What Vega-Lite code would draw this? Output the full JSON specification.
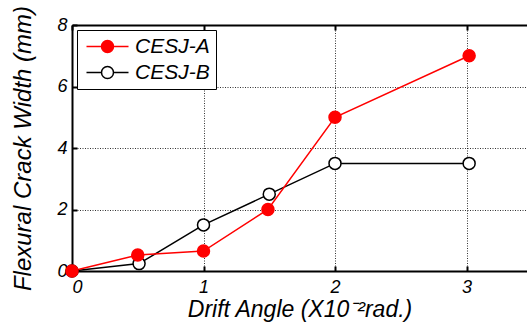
{
  "$schema": "https://vega.github.io/schema/vega-lite/v6.json",
  "autosize": "none",
  "width": 455,
  "height": 246,
  "padding": {"left": 72, "top": 25, "right": 0, "bottom": 52},
  "background": "white",
  "data": {
    "values": [
      {"series": "CESJ-B", "drift": 0, "width": 0},
      {"series": "CESJ-B", "drift": 0.51, "width": 0.24},
      {"series": "CESJ-B", "drift": 1.0, "width": 1.5},
      {"series": "CESJ-B", "drift": 1.5, "width": 2.5},
      {"series": "CESJ-B", "drift": 2.0, "width": 3.5},
      {"series": "CESJ-B", "drift": 3.02, "width": 3.5},
      {"series": "CESJ-A", "drift": 0, "width": 0},
      {"series": "CESJ-A", "drift": 0.5, "width": 0.52},
      {"series": "CESJ-A", "drift": 1.0, "width": 0.65},
      {"series": "CESJ-A", "drift": 1.49, "width": 2.0},
      {"series": "CESJ-A", "drift": 2.0, "width": 5.0},
      {"series": "CESJ-A", "drift": 3.02, "width": 7.0}
    ]
  },
  "layer": [
    {
      "mark": {"type": "line", "strokeWidth": 1.5},
      "encoding": {
        "x": {"field": "drift", "type": "quantitative", "scale": {"domain": [0, 3.46], "nice": false},
              "axis": {"orient": "bottom", "values": [0, 1, 2, 3], "title": "Drift Angle (X10⁻²rad.)", "titlePadding": 2, "labelPadding": 12, "titleFontSize": 23}},
        "y": {"field": "width", "type": "quantitative", "scale": {"domain": [0, 8], "nice": false},
              "axis": {"values": [0, 2, 4, 6, 8], "title": "Flexural Crack Width (mm)", "titlePadding": 21, "labelPadding": 10}},
        "stroke": {"field": "series", "type": "nominal",
                   "scale": {"domain": ["CESJ-A", "CESJ-B"], "range": ["#ff0000", "#000000"]}},
        "order": {"field": "series", "sort": "descending"}
      }
    },
    {
      "mark": {"type": "point", "filled": false, "size": 144, "strokeWidth": 1.5, "opacity": 1},
      "encoding": {
        "x": {"field": "drift", "type": "quantitative",
              "axis": {"orient": "top", "values": [0, 1, 2, 3], "labels": false, "grid": false, "title": null}},
        "y": {"field": "width", "type": "quantitative"},
        "stroke": {"field": "series", "type": "nominal",
                   "scale": {"domain": ["CESJ-A", "CESJ-B"], "range": ["#ff0000", "#000000"]}},
        "fill": {"field": "series", "type": "nominal",
                 "scale": {"domain": ["CESJ-A", "CESJ-B"], "range": ["#ff0000", "#ffffff"]}}
      }
    }
  ],
  "resolve": {"axis": {"x": "independent"}},
  "config": {
    "view": {"stroke": null},
    "font": "Liberation Sans",
    "legend": {
      "title": null,
      "orient": "top-left",
      "offset": 5,
      "symbolType": "M-1,0L1.143,0M2.857,0L5,0M2.857,0A0.857,0.857,0,1,1,1.143,0A0.857,0.857,0,1,1,2.857,0Z",
      "symbolSize": 196,
      "symbolStrokeWidth": 1.5,
      "labelFont": "Liberation Sans",
      "labelFontStyle": "italic",
      "labelFontSize": 21,
      "labelColor": "black",
      "labelOffset": 31,
      "rowPadding": 4,
      "padding": 6,
      "strokeColor": "black",
      "fillColor": "white"
    },
    "axis": {
      "labelFont": "Liberation Sans",
      "labelFontStyle": "italic",
      "labelFontSize": 18,
      "labelColor": "black",
      "titleFont": "Liberation Sans",
      "titleFontStyle": "italic",
      "titleFontWeight": "normal",
      "titleFontSize": 24,
      "titleColor": "black",
      "domainColor": "black",
      "domainWidth": 2,
      "grid": true,
      "gridColor": "black",
      "gridDash": [1, 1.5],
      "gridWidth": 1,
      "gridOpacity": 0.8,
      "tickColor": "black",
      "tickSize": -5,
      "tickWidth": 2
    }
  }
}
